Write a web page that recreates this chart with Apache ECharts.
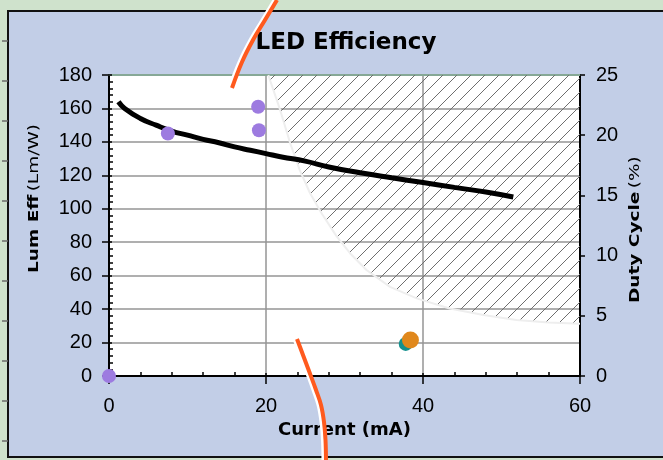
<!DOCTYPE html>
<html>
<head>
<meta charset="utf-8">
<script src="https://cdn.jsdelivr.net/npm/echarts@6/dist/echarts.min.js"></script>
<style>
  html, body { margin: 0; padding: 0; background: #cfe2cc; }
  #chart { width: 663px; height: 460px; }
</style>
</head>
<body>
<div id="chart"></div>
<script>
// Luminous efficiency (Lm/W) versus drive current (mA)
const effCurrent = [1.2, 2, 4, 6, 8, 10, 12, 14, 16, 18, 20, 22, 25, 28, 32, 36, 40, 44, 48, 51.5];
const effValue   = [164, 160, 154, 150, 146.5, 144, 141.5, 139.5, 137, 135, 133, 131, 128.5, 125, 121.5, 118.5, 115.7, 112.8, 110, 107];

// Measured points
const purpleCurrent = [0, 7.5, 19.0, 19.1];
const purpleValue   = [0, 145, 161, 147];
const tealCurrent   = [37.8];
const tealValue     = [19.2];
const orangeCurrent = [38.4];
const orangeValue   = [21.5];

// Duty-cycle limit (%); the region above it is hatched
const limitCurrent = [20.3, 20.5, 21.8, 23.1, 24.3, 25.6, 27.1, 29.0, 30.7, 32.8, 35.8, 39.2, 43.4, 47.7, 51.9, 56, 60];
const limitDuty    = [25, 24.6, 22.1, 19.3, 17.1, 15.2, 13.5, 11.6, 10.2, 8.8, 7.4, 6.45, 5.6, 5.07, 4.65, 4.45, 4.35];

// Axis ticks
const xTicks     = [0, 20, 40, 60];
const leftTicks  = [0, 20, 40, 60, 80, 100, 120, 140, 160, 180];
const rightTicks = [0, 5, 10, 15, 20, 25];

const pairs = (xs, ys) => xs.map((x, i) => [x, ys[i]]);
const range = t => ({ min: t[0], max: t[t.length - 1], interval: t[1] - t[0] });

function hatchPattern() {
  const s = 14;
  const c = document.createElement('canvas');
  c.width = s; c.height = s;
  const g = c.getContext('2d');
  g.strokeStyle = '#6e6e6e';
  g.lineWidth = 1;
  g.beginPath();
  [-s, 0, s].forEach(o => { g.moveTo(o - 1, s + 1); g.lineTo(o + s + 1, -1); });
  g.stroke();
  return c;
}
const hatchFill = { image: hatchPattern(), repeat: 'repeat' };

const labelFont = { color: '#000', fontFamily: '"Liberation Sans Narrow", "Liberation Sans", sans-serif', fontSize: 20 };
const gridGrey = { show: true, lineStyle: { color: '#959595', width: 1.5 } };
const blackLine = { show: true, onZero: false, lineStyle: { color: '#000', width: 2 } };

const chart = echarts.init(document.getElementById('chart'), null, { renderer: 'canvas' });

const orangeTop = [[277, 0], [265, 20], [253, 40], [242, 62], [232, 88]];
const orangeBottom = [[297, 339], [303, 355], [309, 371], [316, 390], [321, 405], [324, 422], [325.5, 440], [326, 462]];
const shift = (pts, d) => pts.map(p => [p[0] + d, p[1]]);

const stripTicks = [];
for (let y = 41; y < 460; y += 40) {
  stripTicks.push({ type: 'line', z: -9, shape: { x1: 2, y1: y, x2: 8, y2: y }, style: { stroke: '#6a6a6a', lineWidth: 1.5 } });
}

chart.setOption({
  animation: false,
  grid: { left: 109, right: 83, top: 75, bottom: 84, show: true, backgroundColor: '#ffffff', borderWidth: 0, outerBoundsMode: 'none' },
  title: {
    text: 'LED Efficiency', left: 341, top: 27, textAlign: 'center',
    textStyle: { fontFamily: '"DejaVu Sans", sans-serif', fontWeight: 'bold', fontSize: 23, color: '#000' }
  },
  xAxis: [
    Object.assign({ type: 'value', position: 'bottom' }, range(xTicks), {
      name: 'Current (mA)', nameLocation: 'middle', nameGap: 41,
      nameTextStyle: { fontFamily: '"DejaVu Sans", sans-serif', fontWeight: 'bold', fontSize: 18, color: '#000' },
      axisLine: blackLine,
      axisTick: { show: true, inside: false, length: 8, lineStyle: { color: '#000', width: 1.5 } },
      axisLabel: Object.assign({ margin: 20 }, labelFont),
      splitLine: gridGrey
    }),
    Object.assign({ type: 'value', position: 'bottom' }, range(xTicks), {
      axisLine: { show: false, onZero: false },
      axisTick: { show: true, inside: true, length: 3, lineStyle: { color: '#000', width: 1.5 } },
      minorTick: { show: true, splitNumber: 5, length: 4, lineStyle: { color: '#000', width: 1.5 } },
      axisLabel: { show: false }, splitLine: { show: false }
    }),
    Object.assign({ type: 'value', position: 'top' }, range(xTicks), {
      axisLine: { show: true, onZero: false, lineStyle: { color: '#86a896', width: 2 } },
      axisTick: { show: false }, axisLabel: { show: false }, splitLine: { show: false }
    })
  ],
  yAxis: [
    Object.assign({ type: 'value', position: 'left' }, range(leftTicks), {
      axisLine: blackLine,
      axisTick: { show: true, inside: false, length: 7, lineStyle: { color: '#000', width: 1.5 } },
      axisLabel: Object.assign({ margin: 17 }, labelFont),
      splitLine: gridGrey
    }),
    Object.assign({ type: 'value', position: 'right' }, range(rightTicks), {
      axisLine: blackLine,
      axisTick: { show: true, inside: false, length: 5, lineStyle: { color: '#000', width: 1.5 } },
      axisLabel: Object.assign({ margin: 16 }, labelFont),
      splitLine: { show: false }
    }),
    Object.assign({ type: 'value', position: 'left' }, range(leftTicks), {
      axisLine: { show: false, onZero: false },
      axisTick: { show: true, inside: true, length: 3, lineStyle: { color: '#000', width: 1.5 } },
      minorTick: { show: true, splitNumber: 5, length: 4, lineStyle: { color: '#000', width: 1.5 } },
      axisLabel: { show: false }, splitLine: { show: false }
    })
  ],
  graphic: [
    { type: 'rect', z: -10, shape: { x: 0, y: 0, width: 663, height: 460 }, style: { fill: '#cfe2cc' } },
    { type: 'rect', z: -10, shape: { x: 8, y: 11, width: 700, height: 446 }, style: { fill: '#c2cee7', stroke: '#111', lineWidth: 2 } },
    ...stripTicks,
    {
      type: 'text', z: 50, x: 35, y: 273, rotation: Math.PI / 2, scaleY: 0.72,
      style: {
        text: '{b|Lum Eff} {r|(Lm/W)}', align: 'left', verticalAlign: 'middle',
        rich: {
          b: { fontFamily: '"DejaVu Sans", sans-serif', fontWeight: 'bold', fontSize: 18.5, fill: '#000' },
          r: { fontFamily: '"DejaVu Sans", sans-serif', fontSize: 18.5, fill: '#000' }
        }
      }
    },
    {
      type: 'text', z: 50, x: 636, y: 303, rotation: Math.PI / 2, scaleY: 0.72,
      style: {
        text: '{b|Duty Cycle} {r|(%)}', align: 'left', verticalAlign: 'middle',
        rich: {
          b: { fontFamily: '"DejaVu Sans", sans-serif', fontWeight: 'bold', fontSize: 18.5, fill: '#000' },
          r: { fontFamily: '"DejaVu Sans", sans-serif', fontSize: 18.5, fill: '#000' }
        }
      }
    },
    { type: 'polyline', z: 100, shape: { points: shift(orangeTop, -3), smooth: 0.4 }, style: { stroke: '#ffffff', lineWidth: 3, fill: null } },
    { type: 'polyline', z: 101, shape: { points: orangeTop, smooth: 0.4 }, style: { stroke: '#ff5a1e', lineWidth: 4, fill: null } },
    { type: 'polyline', z: 100, shape: { points: shift(orangeBottom, -3), smooth: 0.4 }, style: { stroke: '#ffffff', lineWidth: 3, fill: null } },
    { type: 'polyline', z: 101, shape: { points: orangeBottom, smooth: 0.4 }, style: { stroke: '#ff5a1e', lineWidth: 4, fill: null } }
  ],
  series: [
    {
      // hatched region above the duty-cycle limit, closed along the top edge
      type: 'custom', name: 'hatch', xAxisIndex: 0, yAxisIndex: 1, z: 1,
      data: [[limitCurrent[0], limitDuty[0]]],
      renderItem: (params, api) => {
        const topDuty = rightTicks[rightTicks.length - 1];
        const pts = limitCurrent.map((x, i) => api.coord([x, limitDuty[i]]));
        pts.push(api.coord([limitCurrent[limitCurrent.length - 1], topDuty]));
        return { type: 'polygon', shape: { points: pts }, style: { fill: hatchFill, stroke: null } };
      },
      silent: true
    },
    {
      type: 'line', name: 'limit', xAxisIndex: 0, yAxisIndex: 1, z: 2,
      data: pairs(limitCurrent, limitDuty), symbol: 'none',
      lineStyle: { color: '#eeeeee', width: 2 }
    },
    {
      type: 'line', name: 'Lum Eff', xAxisIndex: 0, yAxisIndex: 0, z: 3,
      data: pairs(effCurrent, effValue), symbol: 'none', smooth: true,
      lineStyle: { color: '#000', width: 5 }
    },
    {
      type: 'scatter', xAxisIndex: 0, yAxisIndex: 0, z: 4,
      data: pairs(purpleCurrent, purpleValue), symbol: 'circle', symbolSize: 14,
      itemStyle: { color: '#9d7be0', opacity: 1 }
    },
    {
      type: 'scatter', xAxisIndex: 0, yAxisIndex: 0, z: 4,
      data: pairs(tealCurrent, tealValue), symbol: 'circle', symbolSize: 14,
      itemStyle: { color: '#14908e', opacity: 1 }
    },
    {
      type: 'scatter', xAxisIndex: 0, yAxisIndex: 0, z: 5,
      data: pairs(orangeCurrent, orangeValue), symbol: 'circle', symbolSize: 17,
      itemStyle: { color: '#e0881c', opacity: 1 }
    }
  ]
});
</script>
</body>
</html>
